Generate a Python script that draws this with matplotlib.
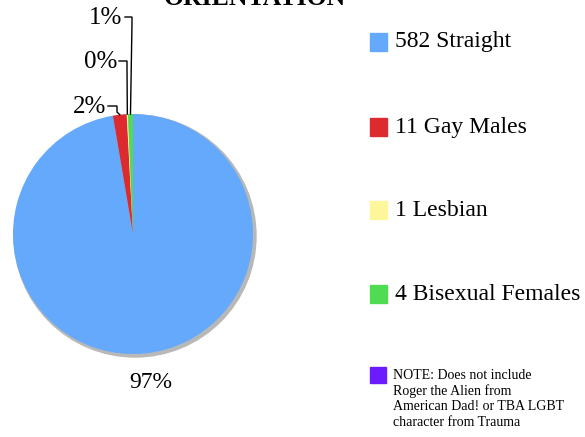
import numpy as np
import matplotlib.pyplot as plt
from matplotlib.patches import Circle, Rectangle

# ---------- Data ----------
labels = ["Straight", "Gay Males", "Lesbian", "Bisexual Females"]
counts = [582, 11, 1, 4]
colors = ["#64a9fc", "#dc2a2e", "#fdf69a", "#4fdc52"]
note_color = "#6a1cff"
note_text = ("NOTE: Does not include\nRoger the Alien from\n"
             "American Dad! or TBA LGBT\ncharacter from Trauma")
title = "ORIENTATION"

W, H = 585, 437
plt.rcParams["font.family"] = ["Liberation Serif", "DejaVu Serif"]

fig = plt.figure(figsize=(W / 100, H / 100), dpi=100)
ax = fig.add_axes([0, 0, 1, 1])

cx, cy, r = 133, H - 234, 120

# shadow
ax.add_patch(Circle((cx + 2, cy - 2), r + 1, color="#b8b8b8", zorder=1))

wedges, _ = ax.pie(counts, colors=colors, startangle=90, counterclock=False,
                   center=(cx, cy), radius=r, frame=True,
                   wedgeprops=dict(linewidth=0, zorder=2))
ax.set_xlim(0, W)
ax.set_ylim(0, H)
ax.set_aspect("equal")
ax.axis("off")

total = sum(counts)
pcts = [f"{round(c / total * 100):d}%" for c in counts]

# 97% label below
ax.text(151, H - 382, pcts[0], ha="center", va="center", fontsize=17)

# small slices: label right edge / y (px) and leader start, elbow x
label_pos = {1: (106, 107), 2: (117, 62), 3: (122, 18)}
line_start = {1: 108, 2: 119, 3: 125}
elbow_x = {1: 117, 2: 127, 3: 132}
for i in (1, 2, 3):
    w = wedges[i]
    mid = np.deg2rad((w.theta1 + w.theta2) / 2)
    px = cx + r * np.cos(mid)
    py = cy + r * np.sin(mid)
    lx, ly = label_pos[i]
    ly = H - ly
    ex = elbow_x[i]
    ax.plot([line_start[i], ex, ex, px], [ly + 1, ly + 1, ly - 5, py],
            color="black", lw=1, zorder=3, solid_joinstyle="miter")
    ax.text(lx, ly, pcts[i], ha="right", va="center", fontsize=18)

# title (cut off at top, as in the original)
ax.text(255, H - 5, title, ha="center", va="baseline", fontsize=18.5,
        fontweight="bold")

# legend
leg_y = [42, 127, 210, 294]
for i, y in enumerate(leg_y):
    ax.add_patch(Rectangle((370, H - y - 9), 17, 18, color=colors[i]))
    ax.text(395, H - y, f"{counts[i]} {labels[i]}", ha="left", va="center",
            fontsize=17)

ax.add_patch(Rectangle((370, H - 383), 16, 16, color=note_color))
ax.text(393, H - 369, note_text, ha="left", va="top", fontsize=10,
        linespacing=1.22)

fig.savefig("out.png", dpi=100)
